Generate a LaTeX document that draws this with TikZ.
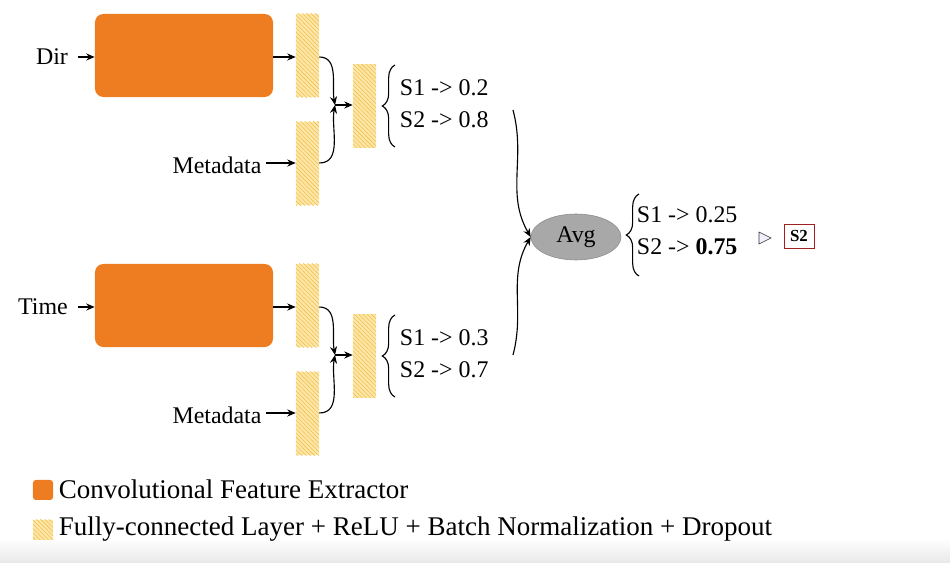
\documentclass[tikz,border=0pt]{standalone}
\usepackage{fontspec}
\setmainfont{Liberation Serif}
\usepackage{xcolor}
\usetikzlibrary{arrows.meta,calc,patterns,positioning,shapes.geometric,decorations.pathreplacing}

\definecolor{convorange}{HTML}{EE7D22}
\definecolor{fcyellow}{HTML}{FCE6A8}
\definecolor{fcline}{HTML}{F2C250}
\definecolor{avggray}{HTML}{A8A8A8}
\definecolor{boxred}{HTML}{A02020}

\tikzset{
  conv/.style={fill=convorange,rounded corners=6pt,minimum width=4.45cm,minimum height=2.075cm},
  fc/.style={preaction={fill=fcyellow},pattern=north west lines,pattern color=fcline,
    minimum width=0.575cm,minimum height=2.075cm},
  txt/.style={font=\fontsize{17}{23}\selectfont},
  legtxt/.style={font=\fontsize{19.2}{23}\selectfont},
  arr/.style={-{Stealth[length=6pt,width=5pt]},thick},
  brc/.style={decorate,decoration={brace,amplitude=9pt},thick}
}

\begin{document}
\begin{tikzpicture}[x=0.025cm,y=-0.025cm]
  \useasboundingbox (0,0) rectangle (950,563);
  \shade[top color=white,bottom color=black!9] (0,538) rectangle (950,563);
  % top branch
  \node[conv] (cv1) at (184,55.5) {};
  \node[fc] (fa1) at (307.5,55.5) {};
  \node[fc] (fb1) at (307.5,163.5) {};
  \node[fc] (fm1) at (364.5,106) {};
  \node[txt] (dir) at (52,57) {Dir};
  \node[txt] (meta1) at (217,165) {Metadata};
  \draw[arr] (78,57) -- (cv1.west |- 0,57);
  \draw[arr] (cv1.east |- 0,57) -- (fa1.west |- 0,57);
  \draw[arr] (meta1.east |- 0,163) -- (fb1.west |- 0,163);
  \coordinate (j1) at (335,105);
  \draw[arr] (fa1.east |- 0,57) to[out=0,in=100] (j1);
  \draw[arr] (fb1.east |- 0,163) to[out=0,in=-100] (j1);
  \draw[arr] (j1) -- (fm1.west |- j1);
  \draw[brc] (395,147) -- (395,65);
  \node[txt,anchor=west,align=left] (sc1) at (395,104) {S1 -> 0.2\\S2 -> 0.8};
  \coordinate (o1) at (513,110);
  % bottom branch
  \node[conv] (cv2) at (184,305.5) {};
  \node[fc] (fa2) at (307.5,305.5) {};
  \node[fc] (fb2) at (307.5,413.5) {};
  \node[fc] (fm2) at (364.5,356) {};
  \node[txt] (time) at (43,307) {Time};
  \node[txt] (meta2) at (217,415) {Metadata};
  \draw[arr] (78,307) -- (cv2.west |- 0,307);
  \draw[arr] (cv2.east |- 0,307) -- (fa2.west |- 0,307);
  \draw[arr] (meta2.east |- 0,413) -- (fb2.west |- 0,413);
  \coordinate (j2) at (335,355);
  \draw[arr] (fa2.east |- 0,307) to[out=0,in=100] (j2);
  \draw[arr] (fb2.east |- 0,413) to[out=0,in=-100] (j2);
  \draw[arr] (j2) -- (fm2.west |- j2);
  \draw[brc] (395,397) -- (395,315);
  \node[txt,anchor=west,align=left] (sc2) at (395,354) {S1 -> 0.3\\S2 -> 0.7};
  \coordinate (o2) at (513,355);
  % averaging
  \node[ellipse,fill=avggray,draw=black!45,minimum width=2.25cm,minimum height=1.15cm,txt] (avg) at (576,237) {Avg};
  \draw[arr] (o1) to[out=-75,in=120] (avg.west);
  \draw[arr] (o2) to[out=75,in=-120] (avg.west);
  \draw[brc] (639,276) -- (639,194);
  \node[txt,anchor=west,align=left] (sc3) at (632,231) {S1 -> 0.25\\S2 -> \textbf{0.75}};
  \draw[fill=blue!6,draw=black!80] (759,232) -- (771,238) -- (759,244) -- cycle;
  \node[draw=boxred,font=\fontsize{12}{14}\selectfont\bfseries,minimum width=0.75cm,minimum height=0.6cm,inner sep=1pt] (res) at (799,236) {S2};
  % legend
  \node[fill=convorange,rounded corners=2pt,minimum size=0.5cm] (lg1) at (43,490) {};
  \node[legtxt,anchor=west] (lt1) at (54,489) {Convolutional Feature Extractor};
  \node[fc,minimum width=0.5cm,minimum height=0.5cm] (lg2) at (43,530) {};
  \node[legtxt,anchor=west] (lt2) at (54,529) {Fully-connected Layer + ReLU + Batch Normalization + Dropout};
\end{tikzpicture}
\end{document}
